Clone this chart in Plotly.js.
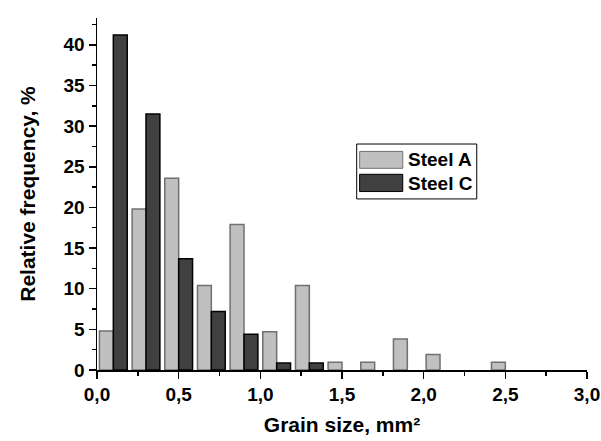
<!DOCTYPE html>
<html><head><meta charset="utf-8">
<script src="https://cdn.plot.ly/plotly-3.0.1.min.js"></script>
<style>html,body{margin:0;padding:0;background:#fff;}</style>
</head><body>
<div id="chart" style="width:601px;height:441px;"></div>
<script>
const binCenters = [0.1, 0.3, 0.5, 0.7, 0.9, 1.1, 1.3, 1.5, 1.7, 1.9, 2.1, 2.3, 2.5];
const steelA = [4.8, 19.8, 23.6, 10.4, 17.9, 4.7, 10.4, 0.95, 0.95, 3.8, 1.9, null, 0.95];
const steelC = [41.2, 31.5, 13.7, 7.2, 4.4, 0.85, 0.85, null, null, null, null, null, null];
const seriesNames = ["Steel A", "Steel C"];
const xTitle = "Grain size, mm²";
const yTitle = "Relative frequency, %";

const F = "Liberation Sans, Arial, sans-serif";
const colA = '#c0c0c0', lineA = '#707070';
const colC = '#404040', lineC = '#000000';
const data = [
  {type:'bar', x:binCenters, y:steelA, name:seriesNames[0],
   marker:{color:colA, line:{color:lineA, width:1.5}}},
  {type:'bar', x:binCenters, y:steelC, name:seriesNames[1],
   marker:{color:colC, line:{color:lineC, width:1.5}}}
];
// custom legend (wide swatches as in the original)
const shapes = [
  {type:'rect', xref:'paper', yref:'paper', x0:0.53, x1:0.775, y0:0.486, y1:0.642,
   line:{color:'#000', width:1}, fillcolor:'#fff', layer:'above'},
  {type:'rect', xref:'paper', yref:'paper', x0:0.536, x1:0.624, y0:0.573, y1:0.621,
   line:{color:lineA, width:1}, fillcolor:colA, layer:'above'},
  {type:'rect', xref:'paper', yref:'paper', x0:0.536, x1:0.624, y0:0.507, y1:0.556,
   line:{color:lineC, width:1}, fillcolor:colC, layer:'above'}
];
const annotations = [
  {xref:'paper', yref:'paper', x:0.63, y:0.598, xanchor:'left', yanchor:'middle', showarrow:false,
   text:seriesNames[0], font:{family:F, size:19, weight:'bold', color:'#000'}},
  {xref:'paper', yref:'paper', x:0.63, y:0.531, xanchor:'left', yanchor:'middle', showarrow:false,
   text:seriesNames[1], font:{family:F, size:19, weight:'bold', color:'#000'}}
];
const layout = {
  width:601, height:441,
  margin:{l:97, r:14, t:18, b:71},
  paper_bgcolor:'#fff', plot_bgcolor:'#fff',
  barmode:'group', bargap:0.15, bargroupgap:0,
  separators:', ',
  font:{family:F, color:'#000'},
  showlegend:false,
  shapes:shapes, annotations:annotations,
  xaxis:{range:[0,3.0], dtick:0.5, tick0:0, tickformat:'.1f',
    showgrid:false, zeroline:false, showline:true, linecolor:'#000', linewidth:1.5,
    ticks:'outside', ticklen:7, tickwidth:1.5, tickcolor:'#000',
    minor:{ticks:'outside', ticklen:4, dtick:0.25, tickwidth:1.5, tickcolor:'#000'},
    tickfont:{family:F, size:19, weight:'bold'},
    title:{text:xTitle, font:{family:F, size:21, weight:'bold'}, standoff:13}},
  yaxis:{range:[0,43.3], dtick:5, tick0:0,
    showgrid:false, zeroline:false, showline:true, linecolor:'#000', linewidth:1.5,
    ticks:'outside', ticklen:7, tickwidth:1.5, tickcolor:'#000',
    minor:{ticks:'outside', ticklen:4, dtick:2.5, tickwidth:1.5, tickcolor:'#000'},
    tickfont:{family:F, size:19, weight:'bold'},
    title:{text:yTitle, font:{family:F, size:21, weight:'bold'}, standoff:22}}
};
Plotly.newPlot('chart', data, layout, {displayModeBar:false, staticPlot:true});
</script>
</body></html>
